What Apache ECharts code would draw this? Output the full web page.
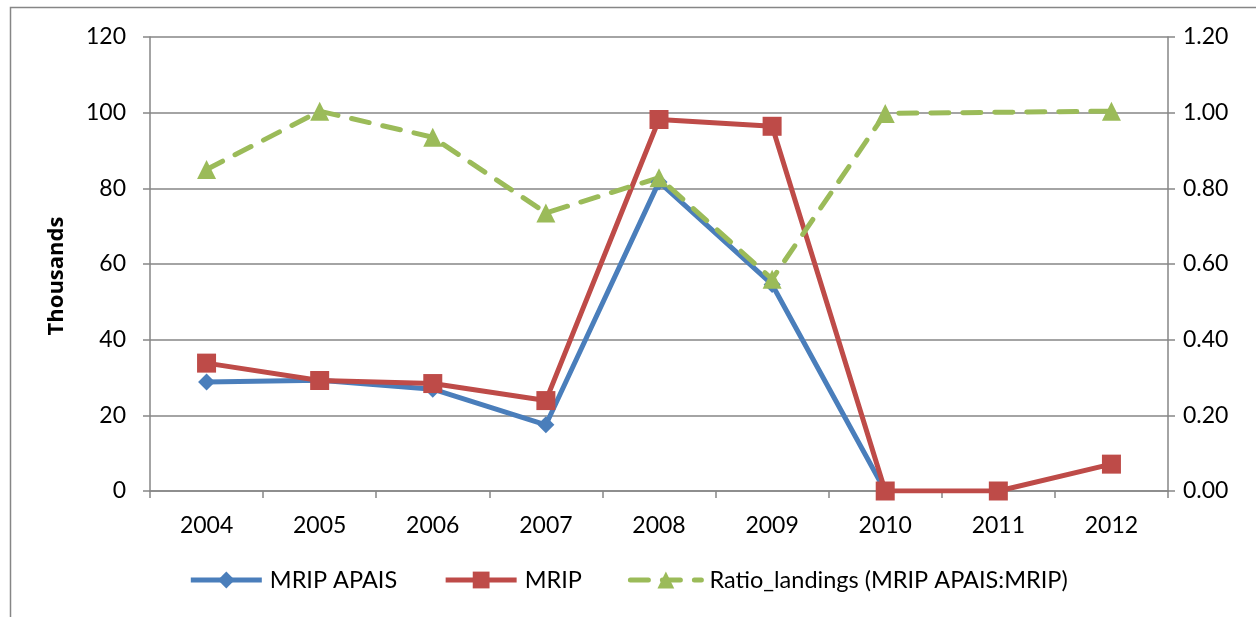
<!DOCTYPE html>
<html><head><meta charset="utf-8">
<script src="https://cdn.jsdelivr.net/npm/echarts@6/dist/echarts.min.js"></script>
<style>html,body{margin:0;padding:0;background:#fff}#c{width:1256px;height:617px}</style>
</head><body><div id="c"></div>
<script>
const categories = ['2004','2005','2006','2007','2008','2009','2010','2011','2012'];
const mripApais = [28.8, 29.3, 26.9, 17.5, 81.7, 54.6, 0, null, null];
const mrip = [33.8, 29.2, 28.4, 23.9, 98.2, 96.4, 0, 0, 7.1];
const ratio = [0.85, 1.004, 0.935, 0.735, 0.828, 0.56, 0.998, null, 1.004];
const leftTicks = [0, 20, 40, 60, 80, 100, 120];
const rightTicks = [0, 0.2, 0.4, 0.6, 0.8, 1.0, 1.2];

const font = 'Lato, "Open Sans", sans-serif';
const grey = '#868686';
const chart = echarts.init(document.getElementById('c'));
chart.setOption({
  animation: false,
  textStyle: {fontFamily: font},
  graphic: [{type:'rect', shape:{x:10.5,y:7.5,width:1300,height:700}, style:{fill:'none', stroke:grey, lineWidth:1.5}, silent:true}],
  grid: {left:150, right:88, top:37, bottom:126},
  legend: {
    bottom: 20, left: 'center', itemWidth: 71, itemHeight: 21, itemGap: 46,
    lineStyle: {width: 5},
    textStyle: {fontSize: 23.5, color: '#000', fontFamily: font, padding: [0,0,0,3]},
    data: ['MRIP APAIS','MRIP','Ratio_landings (MRIP APAIS:MRIP)']
  },
  xAxis: {
    type: 'category', data: categories, boundaryGap: true,
    axisLine: {lineStyle:{color:grey, width:1.5}},
    axisTick: {show:true, length:7, lineStyle:{color:grey, width:1.5}},
    axisLabel: {fontSize: 23, color:'#000', margin: 23, fontFamily: font}
  },
  yAxis: [{
    type: 'value', min: leftTicks[0], max: leftTicks[leftTicks.length-1], interval: 20,
    name: 'Thousands', nameLocation: 'middle', nameGap: 82, nameRotate: 90,
    nameTextStyle: {fontSize: 22, fontWeight: 'bold', color:'#000', fontFamily: '"Open Sans", Lato, sans-serif', padding: [0, 24, 0, 0]},
    axisLine: {show:true, lineStyle:{color:grey, width:1.5}},
    axisTick: {show:true, length:7, lineStyle:{color:grey, width:1.5}},
    axisLabel: {fontSize: 23, color:'#000', margin: 24, fontFamily: font},
    splitLine: {lineStyle:{color:grey, width:1.5}}
  },{
    type: 'value', min: rightTicks[0], max: rightTicks[rightTicks.length-1], interval: 0.2,
    axisLine: {show:true, lineStyle:{color:grey, width:1.5}},
    axisTick: {show:true, length:7, lineStyle:{color:grey, width:1.5}},
    axisLabel: {fontSize: 23, color:'#000', margin: 15, fontFamily: font, formatter: v => v.toFixed(2)},
    splitLine: {show:false}
  }],
  series: [{
    name: 'MRIP APAIS', type: 'line', data: mripApais, yAxisIndex: 0,
    symbol: 'diamond', symbolSize: 17, showAllSymbol: true,
    itemStyle: {color:'#4a7ebb'}, lineStyle: {color:'#4a7ebb', width: 5}
  },{
    name: 'MRIP', type: 'line', data: mrip, yAxisIndex: 0,
    symbol: 'rect', symbolSize: 19, showAllSymbol: true,
    itemStyle: {color:'#be4b48'}, lineStyle: {color:'#be4b48', width: 5}
  },{
    name: 'Ratio_landings (MRIP APAIS:MRIP)', type: 'line', data: ratio, yAxisIndex: 1,
    connectNulls: true, symbol: 'triangle', symbolSize: 19, showAllSymbol: true,
    itemStyle: {color:'#9bbb59'}, lineStyle: {color:'#9bbb59', width: 5, type: [18, 14], cap: 'round'}
  }]
});
</script></body></html>
